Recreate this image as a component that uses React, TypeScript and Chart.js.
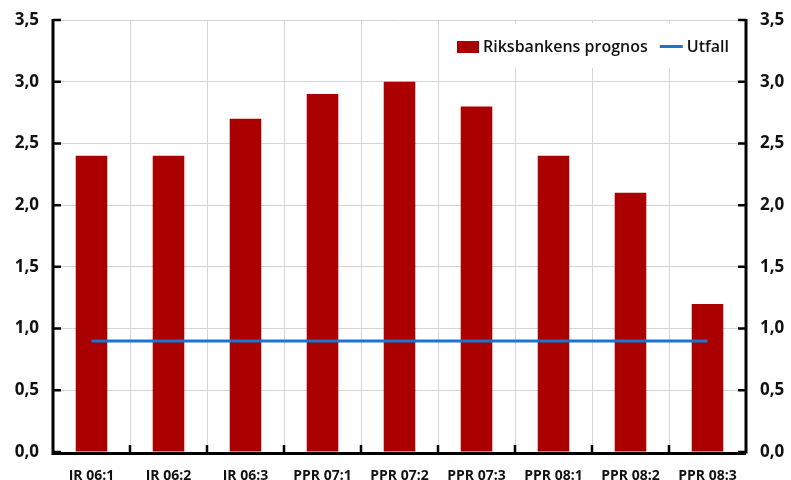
import React, { useEffect, useRef } from "react";
import { Chart, registerables } from "chart.js";

Chart.register(...registerables);

const categories = ["IR 06:1", "IR 06:2", "IR 06:3", "PPR 07:1", "PPR 07:2", "PPR 07:3", "PPR 08:1", "PPR 08:2", "PPR 08:3"];
const prognos = [2.4, 2.4, 2.7, 2.9, 3.0, 2.8, 2.4, 2.1, 1.2];
const utfall = [0.9, 0.9, 0.9, 0.9, 0.9, 0.9, 0.9, 0.9, 0.9];
const yTicks = [0, 0.5, 1, 1.5, 2, 2.5, 3, 3.5];
const legendLabels = ["Riksbankens prognos", "Utfall"];

const RED = "#AA0000";
const BLUE = "#1B74CF";
const FONT = "'Open Sans', 'DejaVu Sans', sans-serif";

const fmt = (v: number) => v.toFixed(1).replace(".", ",");

const axesPlugin = {
  id: "customAxes",
  beforeDatasetsDraw(chart: any) {
    const { ctx, chartArea } = chart;
    ctx.save();
    // legend box
    ctx.fillStyle = "#ffffff";
    ctx.fillRect(440, 23, chartArea.right - 442, 45);
    ctx.fillStyle = RED;
    ctx.fillRect(457, 41, 22, 12);
    ctx.font = `600 16px ${FONT}`;
    ctx.fillStyle = "#111";
    ctx.textBaseline = "middle";
    ctx.textAlign = "left";
    ctx.fillText(legendLabels[0], 483, 47);
    const w = ctx.measureText(legendLabels[0]).width;
    const lx = Math.max(483 + w + 12, 659);
    ctx.strokeStyle = BLUE;
    ctx.lineWidth = 3;
    ctx.beginPath();
    ctx.moveTo(lx, 46.5);
    ctx.lineTo(lx + 23, 46.5);
    ctx.stroke();
    ctx.fillText(legendLabels[1], lx + 27, 47);
    ctx.restore();
  },
  afterDraw(chart: any) {
    const { ctx, chartArea, scales } = chart;
    const { left, right, top, bottom } = chartArea;
    ctx.save();
    ctx.strokeStyle = "#000";
    ctx.lineWidth = 3;
    ctx.lineCap = "butt";
    ctx.beginPath();
    ctx.moveTo(left, top - 1);
    ctx.lineTo(left, bottom + 1.5);
    ctx.lineTo(right, bottom + 1.5);
    ctx.moveTo(right, top - 1);
    ctx.lineTo(right, bottom + 1.5);
    ctx.stroke();
    ctx.lineWidth = 2.5;
    ctx.beginPath();
    for (const v of yTicks) {
      const y = scales.y.getPixelForValue(v);
      ctx.moveTo(left, y);
      ctx.lineTo(left + 8, y);
      ctx.moveTo(right, y);
      ctx.lineTo(right - 8, y);
    }
    const n = categories.length;
    for (let i = 1; i < n; i++) {
      const x = (scales.x.getPixelForValue(i - 1) + scales.x.getPixelForValue(i)) / 2;
      ctx.moveTo(x, bottom);
      ctx.lineTo(x, bottom - 7);
    }
    ctx.stroke();
    ctx.restore();
  },
};

export default function App() {
  const ref = useRef<HTMLCanvasElement>(null);
  useEffect(() => {
    document.body.style.margin = "0";
    const chart = new Chart(ref.current!, {
      type: "bar",
      data: {
        labels: categories,
        datasets: [
          {
            type: "line",
            label: legendLabels[1],
            data: utfall,
            borderColor: BLUE,
            borderWidth: 3,
            pointRadius: 0,
            order: 0,
            yAxisID: "y",
          } as any,
          {
            type: "bar",
            label: legendLabels[0],
            data: prognos,
            backgroundColor: RED,
            barPercentage: 0.41,
            categoryPercentage: 1,
            order: 1,
            yAxisID: "y",
          },
        ],
      },
      options: {
        animation: false,
        responsive: false,
        layout: { padding: { top: 20, left: 0, right: 0, bottom: 0 } },
        plugins: { legend: { display: false }, tooltip: { enabled: false } },
        scales: {
          x: {
            offset: true,
            grid: { color: "#d4d4d4", lineWidth: 1, drawTicks: true, tickLength: 8, tickColor: "rgba(0,0,0,0)", offset: true },
            border: { display: false },
            ticks: {
              color: "#111",
              font: { family: FONT, size: 14, weight: "bold" },
              padding: 8,
              maxRotation: 0,
              autoSkip: false,
            },
            afterFit: (s: any) => { s.height = 28; },
          },
          y: {
            position: "left",
            min: 0,
            max: 3.5,
            grid: { color: "#d4d4d4", lineWidth: 1, drawTicks: true, tickLength: 10, tickColor: "rgba(0,0,0,0)" },
            border: { display: false },
            ticks: {
              stepSize: 0.5,
              color: "#111",
              padding: 4,
              font: { family: FONT, size: 17, weight: "bold" },
              callback: (v: any) => fmt(Number(v)),
            },
            afterFit: (s: any) => { s.width = 53; },
          },
          y2: {
            position: "right",
            min: 0,
            max: 3.5,
            grid: { display: true, drawOnChartArea: false, drawTicks: true, tickLength: 10, tickColor: "rgba(0,0,0,0)" },
            border: { display: false },
            ticks: {
              stepSize: 0.5,
              color: "#111",
              padding: 4,
              font: { family: FONT, size: 17, weight: "bold" },
              callback: (v: any) => fmt(Number(v)),
            },
            afterFit: (s: any) => { s.width = 45; },
          },
        },
      },
      plugins: [axesPlugin],
    });
    return () => chart.destroy();
  }, []);
  return (
    <div style={{ width: 791, height: 480 }}>
      <canvas ref={ref} width={791} height={480} style={{ display: "block" }} />
    </div>
  );
}
